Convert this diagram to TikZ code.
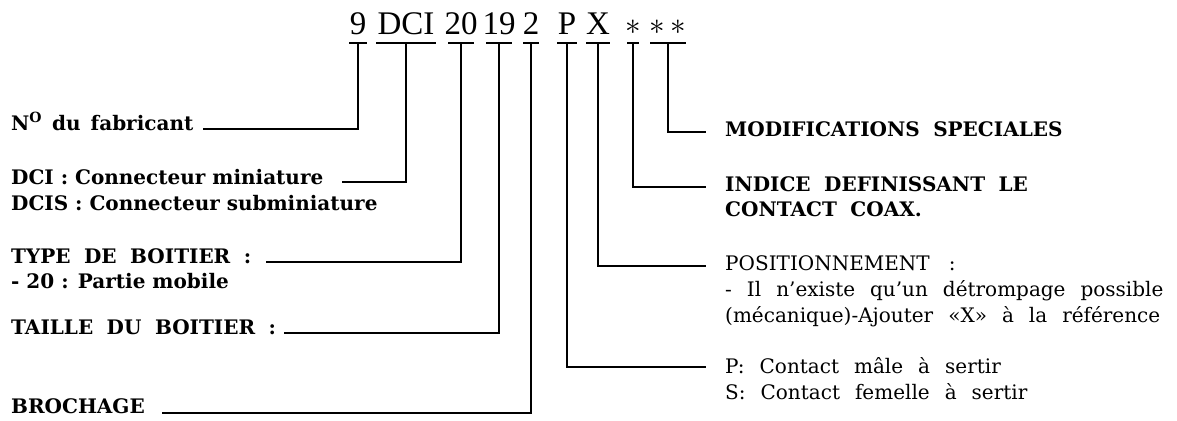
\documentclass[tikz,border=0pt]{standalone}
\usepackage{fontspec}
\setmainfont{DejaVu Serif}
\newfontfamily\headfont{Liberation Serif}
\newfontfamily\medfont{DejaVu Serif}
\usetikzlibrary{calc}
\newcommand\capsp{\spaceskip 13.5pt\relax}
\newcommand\lowsp{\spaceskip 10pt\relax}
\newcommand\regsp{\spaceskip 15pt\relax}
\begin{document}
\begin{tikzpicture}[x=1pt,y=-1pt,
  lbl/.style={anchor=base west, inner sep=0pt, font=\bfseries\fontsize{20}{24}\selectfont},
  lown/.style={anchor=base west, inner sep=0pt, font=\bfseries\fontsize{20}{24}\selectfont\lowsp},
  capl/.style={anchor=base west, inner sep=0pt, font=\bfseries\fontsize{20}{24}\selectfont\capsp},
  lblr/.style={anchor=base west, inner sep=0pt, font=\medfont\fontsize{20}{24}\selectfont\regsp},
  head/.style={anchor=base, inner sep=0pt, font=\headfont\fontsize{33}{36}\selectfont},
  ast/.style={anchor=base, inner sep=0pt, font=\fontsize{24}{26}\selectfont},
  lead/.style={line width=1.4pt},
  bar/.style={line width=1.4pt}]
\useasboundingbox (0,0) rectangle (1177,420);
\newcommand\tbar[2]{\draw[bar] ($(#1.base)+(-#2,8)$) -- ($(#1.base)+(#2,8)$);}
% header
\node[head] (h9) at (358,35) {9};
\node[head] (hDCI) at (406,35) {DCI};
\node[head] (h20) at (461,35) {20};
\node[head] (h19) at (499,35) {19};
\node[head] (h2) at (531,35) {2};
\node[head] (hP) at (567,35) {P};
\node[head] (hX) at (598,35) {X};
\node[ast] (hA) at (633,35) {\scalebox{1.25}{$\ast$}};
\node[ast] (hAA) at (668,35) {\scalebox{1.25}{$\ast\hspace{4pt}\ast$}};
\tbar{h9}{9}
\tbar{hDCI}{30}
\tbar{h20}{13}
\tbar{h19}{13}
\tbar{h2}{8}
\tbar{hP}{10}
\tbar{hX}{12}
\tbar{hA}{6}
\tbar{hAA}{18}
% left labels
\node[lown] (lN) at (11,130) {N\textsuperscript{O} du fabricant};
\node[lbl] (lDCI1) at (11,184) {DCI : Connecteur miniature};
\node[lbl] (lDCI2) at (11,210) {DCIS : Connecteur subminiature};
\node[capl] (lTYPE1) at (11,263) {TYPE DE BOITIER :};
\node[lbl] (lTYPE2) at (11,288) {- 20 : Partie mobile};
\node[capl] (lTAIL) at (11,334) {TAILLE DU BOITIER :};
\node[lbl] (lBRO) at (11,413) {BROCHAGE};
% right labels
\node[capl] (rMOD) at (725,136) {MODIFICATIONS SPECIALES};
\node[capl] (rIND1) at (725,191) {INDICE DEFINISSANT LE};
\node[capl] (rIND2) at (725,216) {CONTACT COAX.};
\node[lblr] (rPOS1) at (725,270) {POSITIONNEMENT\hspace{4pt} :};
\node[lblr] (rPOS2) at (725,296) {- Il n’existe qu’un détrompage possible};
\node[lblr] (rPOS3) at (725,322) {(mécanique)-Ajouter «X» à la référence};
\node[lblr] (rP1) at (725,373) {P: Contact mâle à sertir};
\node[lblr] (rP2) at (725,399) {S: Contact femelle à sertir};
% line ends
\coordinate (eN) at (203,129);
\coordinate (eDCI) at (342,182);
\coordinate (eTYPE) at (266,262);
\coordinate (eTAIL) at (284,333);
\coordinate (eBRO) at (162,413);
\coordinate (fMOD) at (706,132);
\coordinate (fIND) at (706,187);
\coordinate (fPOS) at (706,266);
\coordinate (fP) at (706,367);
% connectors
\draw[lead] ($(h9.base)+(0,8)$) |- (eN);
\draw[lead] ($(hDCI.base)+(0,8)$) |- (eDCI);
\draw[lead] ($(h20.base)+(0,8)$) |- (eTYPE);
\draw[lead] ($(h19.base)+(0,8)$) |- (eTAIL);
\draw[lead] ($(h2.base)+(0,8)$) |- (eBRO);
\draw[lead] ($(hP.base)+(0,8)$) |- (fP);
\draw[lead] ($(hX.base)+(0,8)$) |- (fPOS);
\draw[lead] ($(hA.base)+(0,8)$) |- (fIND);
\draw[lead] ($(hAA.base)+(0,8)$) |- (fMOD);
\end{tikzpicture}
\end{document}
